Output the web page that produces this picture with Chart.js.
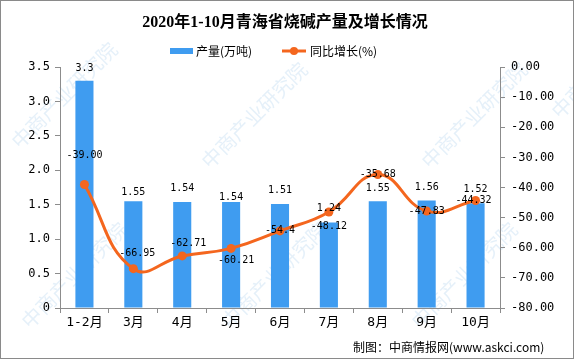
<!DOCTYPE html>
<html>
<head>
<meta charset="utf-8">
<script src="https://cdn.jsdelivr.net/npm/chart.js@4.4.0/dist/chart.umd.min.js"></script>
<style>
  html, body { margin: 0; padding: 0; background: #fff; }
  #wrap { width: 574px; height: 359px; }
</style>
</head>
<body>
<div id="wrap"><canvas id="chart" width="574" height="359"></canvas></div>
<script>
// 数据
const months = ['1-2月', '3月', '4月', '5月', '6月', '7月', '8月', '9月', '10月'];
const output = [3.3, 1.55, 1.54, 1.54, 1.51, 1.24, 1.55, 1.56, 1.52];
const growth = [-39.00, -66.95, -62.71, -60.21, -54.4, -48.12, -35.68, -47.83, -44.32];
const growthLabels = ['-39.00', '-66.95', '-62.71', '-60.21', '-54.4', '-48.12', '-35.68', '-47.83', '-44.32'];
const leftTicks = [0, 0.5, 1, 1.5, 2, 2.5, 3, 3.5];
const rightTicks = [-80, -70, -60, -50, -40, -30, -20, -10, 0];

const BLUE = '#3f9cf0';
const ORANGE = '#f4661e';
const AXIS = '#8c8c8c';
const NUM_FONT = '"DejaVu Sans Mono", "Noto Sans CJK SC", monospace';

// 标签偏移 (像素)
const barLabelDy = [-12, -9, -14, -5, -14, -14, -13, -13, -14];
const lineLabelDx = [0, 4, 6, 5, 0, 0, 0, 0, -2];
const lineLabelDy = [-29, -15, -13, 12, 0, 14, 0, 0, 0];

const decorPlugin = {
    id: 'decor',
    beforeDraw(chart) {
        const ctx = chart.ctx;
        ctx.save();
        ctx.fillStyle = '#fff';
        ctx.fillRect(0, 0, chart.width, chart.height);
        // 水印
        ctx.fillStyle = 'rgba(170, 205, 235, 0.3)';
        ctx.font = '20px "Noto Sans CJK SC"';
        const spots = [[30, 330], [210, 170], [230, 330], [430, 170], [420, 330], [20, 150], [560, 120]];
        spots.forEach(([x, y]) => {
            ctx.save();
            ctx.translate(x, y);
            ctx.rotate(-Math.PI / 4);
            ctx.fillText('中商产业研究院', 0, 0);
            ctx.restore();
        });
        ctx.restore();
    },
    afterDatasetsDraw(chart) {
        const ctx = chart.ctx;
        ctx.save();
        ctx.fillStyle = '#000';
        ctx.font = '10px ' + NUM_FONT;
        ctx.textAlign = 'center';
        ctx.textBaseline = 'middle';
        const bars = chart.getDatasetMeta(1).data;
        bars.forEach((el, i) => {
            ctx.fillText(String(output[i]), el.x, el.y + barLabelDy[i]);
        });
        const pts = chart.getDatasetMeta(0).data;
        pts.forEach((el, i) => {
            ctx.fillText(growthLabels[i], el.x + lineLabelDx[i], el.y + lineLabelDy[i]);
        });
        ctx.restore();
    },
    afterDraw(chart) {
        const ctx = chart.ctx;
        ctx.save();
        // 标题
        ctx.fillStyle = '#000';
        ctx.textAlign = 'center';
        ctx.textBaseline = 'middle';
        ctx.font = 'bold 16px "Liberation Serif", "Noto Sans CJK SC"';
        ctx.fillText('2020年1-10月青海省烧碱产量及增长情况', 285, 23);
        // 图例
        ctx.textAlign = 'left';
        ctx.font = '12px "Noto Sans CJK SC"';
        ctx.fillStyle = BLUE;
        ctx.fillRect(170, 48, 23, 6);
        ctx.fillStyle = '#000';
        ctx.fillText('产量(万吨)', 196, 51);
        ctx.strokeStyle = ORANGE;
        ctx.lineWidth = 3;
        ctx.beginPath();
        ctx.moveTo(282, 51);
        ctx.lineTo(306, 51);
        ctx.stroke();
        ctx.fillStyle = ORANGE;
        ctx.beginPath();
        ctx.arc(294, 51, 4, 0, Math.PI * 2);
        ctx.fill();
        ctx.fillStyle = '#000';
        ctx.fillText('同比增长(%)', 310, 51);
        // 来源
        ctx.fillText('制图：中商情报网(www.askci.com)', 353, 347);
        // 边框
        ctx.strokeStyle = '#8a8a8a';
        ctx.lineWidth = 1;
        ctx.strokeRect(0.5, 0.5, chart.width - 1, chart.height - 1);
        ctx.restore();
    }
};

new Chart(document.getElementById('chart'), {
    data: {
        labels: months,
        datasets: [
            {
                type: 'line',
                label: '同比增长(%)',
                data: growth,
                yAxisID: 'y1',
                borderColor: ORANGE,
                backgroundColor: ORANGE,
                borderWidth: 3,
                pointRadius: 4.5,
                pointBackgroundColor: ORANGE,
                pointBorderWidth: 0,
                tension: 0.45,
                order: 0
            },
            {
                type: 'bar',
                label: '产量(万吨)',
                data: output,
                yAxisID: 'y',
                backgroundColor: BLUE,
                barPercentage: 0.37,
                categoryPercentage: 1,
                order: 1
            }
        ]
    },
    options: {
        responsive: false,
        animation: false,
        layout: { padding: { top: 67, left: 0, right: 0, bottom: 0 } },
        plugins: {
            legend: { display: false },
            title: { display: false },
            tooltip: { enabled: false }
        },
        scales: {
            x: {
                offset: true,
                grid: { drawOnChartArea: false, offset: true, tickLength: 5, color: AXIS },
                border: { color: AXIS },
                ticks: { color: '#000', padding: 2, font: { family: NUM_FONT, size: 13 } },
                afterFit(scale) { scale.height = 51; }
            },
            y: {
                position: 'left',
                min: 0,
                max: 3.5,
                afterBuildTicks(scale) { scale.ticks = leftTicks.map(v => ({ value: v })); },
                grid: { drawOnChartArea: false, tickLength: 5, color: AXIS },
                border: { color: AXIS },
                ticks: { color: '#000', padding: 5, font: { family: NUM_FONT, size: 12 } },
                afterFit(scale) { scale.width = 60; }
            },
            y1: {
                position: 'right',
                min: -80,
                max: 0,
                afterBuildTicks(scale) { scale.ticks = rightTicks.map(v => ({ value: v })); },
                grid: { drawOnChartArea: false, tickLength: 5, color: AXIS },
                border: { color: AXIS },
                ticks: {
                    color: '#000',
                    padding: 6,
                    font: { family: NUM_FONT, size: 12 },
                    callback: v => v.toFixed(2)
                },
                afterFit(scale) { scale.width = 74; }
            }
        }
    },
    plugins: [decorPlugin]
});
</script>
</body>
</html>
